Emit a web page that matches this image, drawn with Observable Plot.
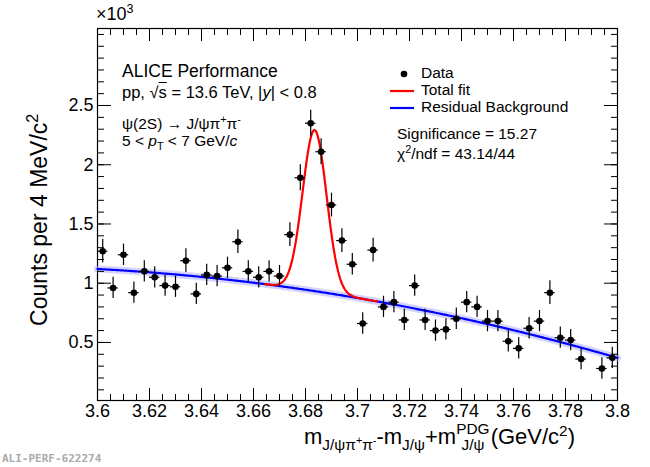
<!DOCTYPE html>
<html><head><meta charset="utf-8">
<script src="https://cdn.jsdelivr.net/npm/d3@7"></script>
<script src="https://cdn.jsdelivr.net/npm/@observablehq/plot@0.6"></script>
<style>
body{margin:0;background:#fff;font-family:"Liberation Sans",Arial,sans-serif}
#wrap{position:relative;width:650px;height:467px}
.t{position:absolute;white-space:nowrap;color:#000}
sub,sup{font-size:70%}
</style></head><body>
<div id="wrap"></div>
<script>
// bin centres (GeV/c^2) and counts (x10^3 per 4 MeV/c^2)
const massCenters = [3.602,3.606,3.610,3.614,3.618,3.622,3.626,3.630,3.634,3.638,3.642,3.646,3.650,3.654,3.658,3.662,3.666,3.670,3.674,3.678,3.682,3.686,3.690,3.694,3.698,3.702,3.706,3.710,3.714,3.718,3.722,3.726,3.730,3.734,3.738,3.742,3.746,3.750,3.754,3.758,3.762,3.766,3.770,3.774,3.778,3.782,3.786,3.794,3.798];
const counts = [1.27,0.96,1.24,0.92,1.10,1.05,0.98,0.97,1.19,0.91,1.07,1.06,1.13,1.35,1.10,1.05,1.10,1.06,1.41,1.89,2.35,2.11,1.66,1.36,1.16,0.66,1.28,0.80,0.84,0.69,0.98,0.69,0.60,0.61,0.70,0.84,0.80,0.68,0.68,0.51,0.45,0.62,0.68,0.92,0.54,0.52,0.36,0.28,0.37];
const errors = [0.10,0.09,0.09,0.09,0.09,0.09,0.09,0.09,0.10,0.09,0.09,0.09,0.09,0.10,0.09,0.09,0.09,0.09,0.10,0.11,0.11,0.11,0.10,0.10,0.09,0.09,0.10,0.09,0.09,0.09,0.09,0.09,0.09,0.09,0.09,0.09,0.09,0.09,0.09,0.09,0.09,0.09,0.09,0.10,0.09,0.09,0.09,0.09,0.09];
// fit model parameters: background quadratic points, gaussian signal
const bgX = [3.6,3.7,3.8];
const bgY = [1.12,0.875,0.37];
const sigMean = 3.6835, sigSigma = 0.0046, sigAmp = 1.36;
const xTicks = [3.6,3.62,3.64,3.66,3.68,3.7,3.72,3.74,3.76,3.78,3.8];
const yTicks = [0.5,1,1.5,2,2.5];

function bg(x){let s=0;for(let i=0;i<3;i++){let p=bgY[i];for(let j=0;j<3;j++)if(j!==i)p*=(x-bgX[j])/(bgX[i]-bgX[j]);s+=p;}return s;}
const curveX = d3.range(3.6,3.8001,0.0005);
const bgCurve = curveX.map(x=>({x,y:bg(x)}));
const totCurve = curveX.filter(x=>x>3.664&&x<3.708).map(x=>({x,y:bg(x)+sigAmp*Math.exp(-0.5*((x-sigMean)/sigSigma)**2)}));
const pts = massCenters.map((x,i)=>({x,y:counts[i],e:errors[i]}));
const minorX = d3.range(3.6,3.8001,0.005);
const minorY = d3.range(0.1,3.15,0.1);
const none = ()=>"";

const plot = Plot.plot({
  width:650,height:467,marginLeft:97,marginRight:33,marginTop:28,marginBottom:67,
  style:{fontFamily:"Liberation Sans, Arial, sans-serif",fontSize:"18px",color:"#000",background:"#fff"},
  x:{type:"linear",domain:[3.6,3.8]},
  y:{type:"linear",domain:[0.01,3.15]},
  marks:[
    Plot.frame({stroke:"#000",strokeWidth:1.2}),
    Plot.line(bgCurve,{x:"x",y:"y",stroke:"#aaaaff",strokeWidth:7,strokeOpacity:0.5}),
    Plot.line(bgCurve,{x:"x",y:"y",stroke:"#0000ff",strokeWidth:2.2}),
    Plot.line(totCurve,{x:"x",y:"y",stroke:"#ff0000",strokeWidth:2.2}),
    Plot.ruleX(pts,{x:"x",y1:d=>d.y-d.e,y2:d=>d.y+d.e,stroke:"#000",strokeWidth:1.2}),
    Plot.ruleY(pts,{y:"y",x1:d=>d.x-0.002,x2:d=>d.x+0.002,stroke:"#000",strokeWidth:1.2}),
    Plot.dot(pts,{x:"x",y:"y",r:3.3,fill:"#000"}),
    Plot.axisX({ticks:xTicks,tickFormat:d=>String(+d.toFixed(2)),tickSize:-12,tickPadding:16,fontSize:18,label:null}),
    Plot.axisX({ticks:xTicks,tickSize:-12,anchor:"top",tickFormat:none,label:null}),
    Plot.axisX({ticks:minorX,tickSize:-6,tickFormat:none,label:null}),
    Plot.axisX({ticks:minorX,tickSize:-6,anchor:"top",tickFormat:none,label:null}),
    Plot.axisY({ticks:yTicks,tickSize:-14,tickPadding:18,fontSize:18,tickFormat:d=>String(d),label:null}),
    Plot.axisY({ticks:yTicks,tickSize:-14,anchor:"right",tickFormat:none,label:null}),
    Plot.axisY({ticks:minorY,tickSize:-7,tickFormat:none,label:null}),
    Plot.axisY({ticks:minorY,tickSize:-7,anchor:"right",tickFormat:none,label:null})
  ]
});
const wrap=document.getElementById("wrap");
wrap.appendChild(plot);
plot.style.position="absolute";plot.style.left="0";plot.style.top="0";
function T(html,x,y,size,extra){const d=document.createElement("div");d.className="t";d.innerHTML=html;d.style.left=x+"px";d.style.top=y+"px";d.style.fontSize=size+"px";if(extra)d.setAttribute("style",d.getAttribute("style")+extra);wrap.appendChild(d);return d;}
T("&times;10<sup>3</sup>",96,2,18);
T("ALICE Performance",122,61,17.5);
T("pp, &radic;<span style='text-decoration:overline'>s</span> = 13.6 TeV, |<i>y</i>| &lt; 0.8",122,83,16.5);
T("&psi;(2S) &rarr; J/&psi;&pi;<sup>+</sup>&pi;<sup>-</sup>",122,113,15.5);
T("5 &lt; <i>p</i><sub>T</sub> &lt; 7 GeV/<i>c</i>",122,132,15.5);
T("Data",421,64,15.5);
T("Total fit",421,81,15.5);
T("Residual Background",421,98,15.5);
T("Significance = 15.27",397,125,15.5);
T("&chi;<sup>2</sup>/ndf = 43.14/44",397,143,15.5);
T("m<sub>J/&psi;&pi;<sup>+</sup>&pi;<sup>-</sup></sub>-m<sub>J/&psi;</sub>+m<sup style='position:relative;top:-2px'>PDG</sup><sub style='margin-left:-28px'>J/&psi;</sub> (GeV/c<sup>2</sup>)",304,422,22);
T("Counts per 4 MeV/c<sup>2</sup>",-72,205,23,"transform:rotate(-90deg);transform-origin:center;width:220px;text-align:center;");
T("ALI-PERF-622274",2,452,11,"color:#aaa;font-family:'DejaVu Sans Mono',monospace;font-weight:bold;");
const svg=d3.select(plot.tagName==="svg"?plot:plot.querySelector("svg"));
svg.append("circle").attr("cx",404).attr("cy",74).attr("r",3.3).attr("fill","#000");
svg.append("line").attr("x1",390).attr("x2",414).attr("y1",91).attr("y2",91).attr("stroke","#f00").attr("stroke-width",2.2);
svg.append("line").attr("x1",390).attr("x2",414).attr("y1",108).attr("y2",108).attr("stroke","#00f").attr("stroke-width",2.2);
</script></body></html>
